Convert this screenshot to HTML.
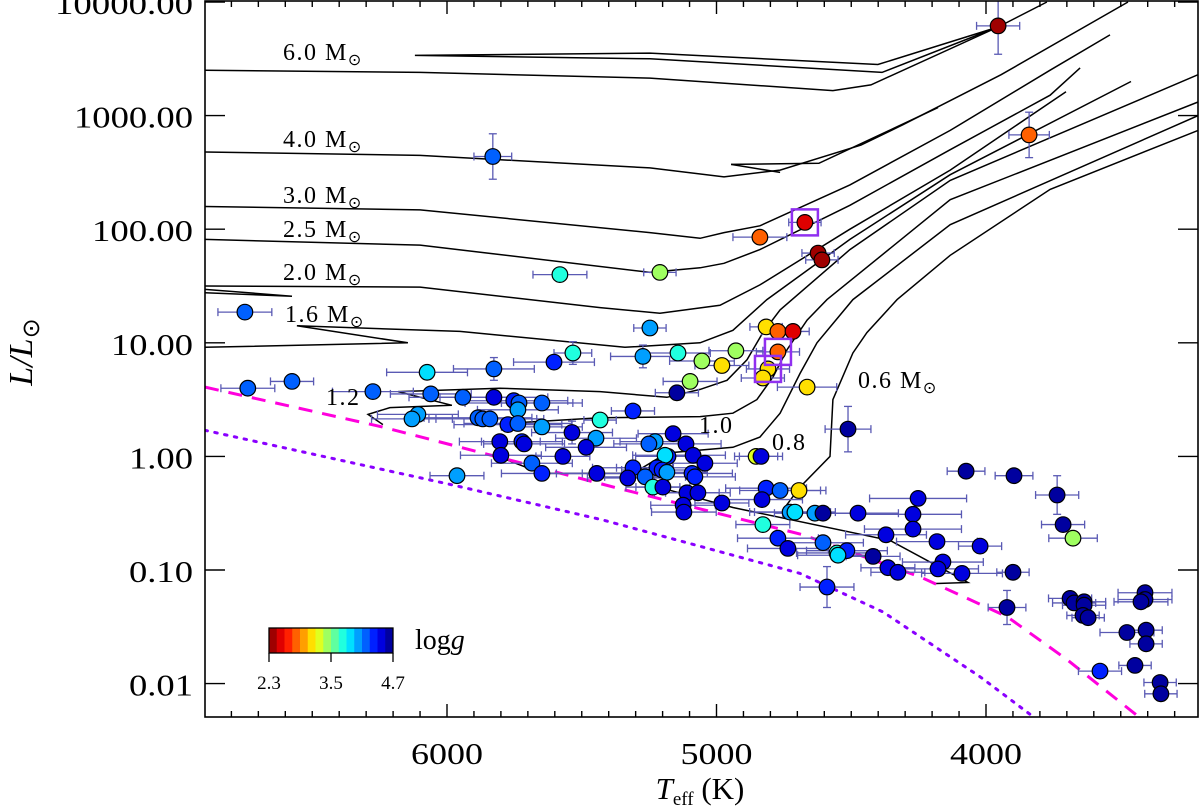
<!DOCTYPE html>
<html><head><meta charset="utf-8"><title>HR diagram</title>
<style>html,body{margin:0;padding:0;background:#fff;}svg{display:block;}</style></head>
<body>
<svg id="chart" width="1200" height="807" viewBox="0 0 1200 807" xmlns="http://www.w3.org/2000/svg" font-family="'Liberation Serif', serif">
<rect x="0" y="0" width="1200" height="807" fill="#fff"/>
<g id="tracks"></g>
<g id="limits"></g>
<g id="errs"></g>
<g id="pts"></g>
<g id="boxes"></g>
<g id="axes"></g>
<g font-size="24" fill="#000" letter-spacing="1.5">
  <text x="283" y="60">6.0 M<tspan font-size="16" dy="5">⊙</tspan></text>
  <text x="283" y="147">4.0 M<tspan font-size="16" dy="5">⊙</tspan></text>
  <text x="283" y="203">3.0 M<tspan font-size="16" dy="5">⊙</tspan></text>
  <text x="283" y="237">2.5 M<tspan font-size="16" dy="5">⊙</tspan></text>
  <text x="283" y="280">2.0 M<tspan font-size="16" dy="5">⊙</tspan></text>
  <text x="285" y="322">1.6 M<tspan font-size="16" dy="5">⊙</tspan></text>
  <text x="326" y="405">1.2</text>
  <text x="699" y="433">1.0</text>
  <text x="772" y="450">0.8</text>
  <text x="858" y="388">0.6 M<tspan font-size="16" dy="5">⊙</tspan></text>
</g>
<g id="cbar"></g>
<text transform="translate(32,352) rotate(-90)" text-anchor="middle" font-size="34" font-style="italic">L/L<tspan font-style="normal" font-size="24" dy="7">⊙</tspan></text>
<text x="700" y="799" text-anchor="middle" font-size="31"><tspan font-style="italic">T</tspan><tspan font-size="19" dy="6">eff</tspan><tspan dy="-6"> (K)</tspan></text>
</svg>
<script>
// ---- data ----
const teff = [3955,3840,5830,4672,4839,4623,4609,5581,5210,6750,4816,4772,4716,5247,5273,5143,5054,4980,4928,5098,5147,4772,4809,4828,4664,4512,5310,5432,5161,5228,5251,5113,4853,4835,5180,5191,5087,5043,5310,5329,5221,5202,5184,5265,5236,5199,5091,5080,5110,5069,5124,5121,4980,4816,4764,4694,4831,4727,4709,4635,4605,4475,4828,4772,4735,4605,4553,4516,4549,4419,4364,4327,4371,4590,4074,3896,3736,3714,3677,4252,4271,4271,4182,4022,4160,4178,4089,3900,3922,3688,3673,3636,3636,3640,3621,3410,3410,3425,3477,3406,3406,3577,3447,3354,3351,6739,6575,6275,6074,5826,5603,5533,6060,5941,5826,5752,5733,5737,5648,6108,6130,5885,5867,5841,5774,5737,5648,5536,5447,5804,5722,5714,5484,5800,5570,5685,5648,5444,5963];
const logL = [3.79,2.83,2.64,2.06,1.93,1.79,1.73,1.60,1.62,1.27,1.14,1.10,1.10,1.13,0.88,0.91,0.84,0.80,0.93,0.66,0.56,0.92,0.77,0.69,0.61,0.24,0.40,0.32,0.20,0.13,0.11,0.11,0.00,0.00,0.00,0.01,0.01,-0.06,-0.10,-0.19,-0.10,-0.12,-0.14,-0.18,-0.27,-0.27,-0.15,-0.18,-0.32,-0.32,-0.43,-0.49,-0.41,-0.28,-0.30,-0.30,-0.38,-0.49,-0.49,-0.50,-0.50,-0.50,-0.60,-0.72,-0.81,-0.76,-0.85,-0.83,-0.87,-0.88,-0.98,-1.02,-0.69,-1.15,-0.13,-0.17,-0.34,-0.60,-0.72,-0.37,-0.51,-0.64,-0.75,-0.79,-0.93,-0.99,-1.03,-1.02,-1.33,-1.25,-1.29,-1.28,-1.31,-1.40,-1.42,-1.20,-1.26,-1.28,-1.55,-1.53,-1.65,-1.89,-1.84,-1.99,-2.09,0.60,0.66,0.57,0.74,0.77,0.83,0.91,0.55,0.52,0.52,0.49,0.47,0.41,0.47,0.37,0.33,0.34,0.33,0.33,0.28,0.29,0.26,0.21,0.16,0.13,0.13,0.11,0.08,0.01,0.00,-0.06,-0.15,-0.15,-0.17];
const logg = [2.35,2.85,4.2,2.5,2.85,2.4,2.4,3.8,3.5,4.2,3.1,2.85,2.55,4.0,4.0,3.8,3.5,3.2,3.5,3.5,4.6,2.85,3.2,3.2,3.2,4.65,4.3,3.8,4.4,4.05,4.2,4.4,3.3,4.5,4.3,3.9,4.4,4.4,4.3,4.4,4.3,4.3,4.05,4.2,3.7,4.4,4.3,4.3,4.4,4.5,4.4,4.5,4.5,4.3,4.15,3.2,4.4,4.05,3.9,4.05,4.6,4.4,3.8,4.3,4.5,4.15,3.8,4.3,3.9,4.6,4.5,4.5,4.5,4.3,4.7,4.7,4.7,4.7,3.5,4.4,4.5,4.5,4.5,4.5,4.5,4.5,4.5,4.7,4.6,4.6,4.6,4.6,4.6,4.6,4.6,4.6,4.6,4.6,4.7,4.6,4.6,4.3,4.6,4.6,4.6,4.2,4.15,4.15,3.9,4.2,4.3,3.8,4.15,4.2,4.4,4.3,4.2,4.05,4.2,4.05,4.05,4.2,4.2,4.15,4.3,4.2,4.05,4.4,4.0,4.4,4.3,4.5,4.4,4.4,4.4,4.15,4.3,4.5,4.05];
const errT = [80,75,70,60,100,60,60,100,60,100,60,60,60,60,120,120,120,100,100,100,80,80,80,80,110,85,80,60,130,130,130,130,80,80,120,120,120,120,150,150,150,150,150,150,100,100,150,150,120,120,120,120,100,150,150,100,150,150,150,150,150,150,100,150,150,150,150,150,150,100,100,100,150,100,70,70,80,80,90,180,180,180,150,80,150,150,150,60,70,80,80,80,80,60,60,100,100,100,100,60,60,80,60,60,60,100,80,150,150,150,150,70,150,200,200,200,200,150,150,150,150,200,200,200,200,200,150,150,150,150,150,150,150,150,100,150,150,150,100];
const errL = [0.25,0.2,0.2,0.04,0.04,0.04,0.04,0.04,0.04,0.04,0.04,0.04,0.04,0.04,0.1,0.04,0.04,0.04,0.04,0.04,0.04,0.04,0.04,0.04,0.04,0.2,0.04,0.04,0.04,0.04,0.04,0.04,0.04,0.04,0.04,0.04,0.04,0.04,0.04,0.04,0.04,0.04,0.04,0.04,0.04,0.04,0.04,0.04,0.04,0.04,0.04,0.04,0.04,0.04,0.04,0.04,0.04,0.04,0.04,0.04,0.04,0.04,0.04,0.04,0.04,0.04,0.04,0.04,0.04,0.04,0.04,0.04,0.04,0.18,0.04,0.05,0.17,0.04,0.04,0.04,0.04,0.04,0.04,0.04,0.04,0.04,0.04,0.04,0.15,0.04,0.04,0.04,0.04,0.04,0.04,0.04,0.04,0.04,0.04,0.04,0.04,0.04,0.04,0.04,0.04,0.04,0.04,0.04,0.04,0.1,0.04,0.1,0.04,0.04,0.04,0.04,0.04,0.04,0.04,0.04,0.04,0.04,0.04,0.04,0.04,0.04,0.04,0.1,0.04,0.04,0.04,0.04,0.04,0.04,0.04,0.04,0.04,0.04,0.04];
const boxedIdx = [3, 21, 22];
const trackNames = ['track-6-0','track-6-0-loop','track-4-0','track-4-0-loop','track-4-0-loop-b','track-3-0','track-2-5','track-2-0','track-2-0-hook','track-1-6','track-1-2','track-1-0','track-0-8','track-0-6','track-0-6-lower'];
const trackT = [
 [6898,6100,5247,4568,4427,3955,3774],
 [3955,4386,5247,6119,5247,4401,3955],
 [6898,6100,5247,4972,4764,4464,4308,3944,3473],
 [4946,4620,4178],
 [4946,4764],
 [6898,6100,5247,5061,4972,4839,4505,4133,3762,3540],
 [6898,6100,5247,5061,4972,4839,4505,4133,3762,3651],
 [6898,6100,5432,5210,4987,4839,4505,4133,3703],
 [6898,6575,6898],
 [6898,6145,6557,5952,5340,5061,4939,4813,4505,4133,3462],
 [6238,6293,6212,5982,6182,5804,5432,5184,5061,4961,4887,4828,4764,4505,4133,3213],
 [5711,5432,5061,4939,4850,4790,4738,4664,4590,4133,3213],
 [5811,5648,5310,5184,4939,4839,4764,4690,4627,4494,4133,3213],
 [4753,4690,4579,4568,4494,4442,4330,4133,3762,3213],
 [5247,4939,4356,4067,4197]
];
const trackL = [
 [3.40,3.38,3.33,3.22,3.27,3.78,4.00],
 [3.78,3.38,3.50,3.53,3.55,3.45,3.78],
 [2.68,2.65,2.54,2.46,2.52,2.74,2.92,3.36,4.00],
 [2.57,2.58,3.07],
 [2.57,2.50],
 [2.20,2.17,1.97,1.92,1.97,2.03,2.39,2.87,3.40,3.71],
 [1.91,1.86,1.62,1.66,1.70,1.82,2.21,2.70,3.18,3.42],
 [1.50,1.49,1.31,1.26,1.33,1.51,2.00,2.52,3.21],
 [1.47,1.41,1.44],
 [0.96,1.00,1.15,1.10,0.96,1.00,1.11,1.38,1.91,2.48,3.30],
 [0.28,0.37,0.43,0.45,0.57,0.60,0.57,0.52,0.59,0.67,0.85,1.09,1.29,1.82,2.43,3.36],
 [0.30,0.34,0.35,0.38,0.50,0.70,0.94,1.20,1.38,2.26,3.12],
 [0.00,-0.15,-0.15,0.03,0.08,0.17,0.38,0.73,1.00,1.38,2.04,3.00],
 [-0.47,-0.27,0.00,0.50,0.91,1.09,1.38,1.77,2.35,2.87],
 [-0.25,-0.45,-0.74,-1.11,-1.12]
];
const dashT = [6898,6241,5366,4679,4245,3922,3699,3440,3380];
const dashL = [0.61,0.26,-0.28,-0.69,-1.06,-1.41,-1.79,-2.28,-2.40];
const dotT = [6898,5982,5421,4690,4382,4022,3826];
const dotL = [0.23,-0.25,-0.56,-1.03,-1.37,-1.94,-2.29];
const yTickVals = [4,3,2,1,0,-1,-2];
const yTickLabels = ['10000.00','1000.00','100.00','10.00','1.00','0.10','0.01'];
const xTickVals = [6000,5000,4000];
const xTickLabels = ['6000','5000','4000'];
const cbarTicks = [2.3,3.5,4.7];
const cbarLabels = ['2.3','3.5','4.7'];

// ---- scales ----
const X0 = 205, X1 = 1198, Y0 = 1, Y1 = 717;
function sx(t){ return 447 + (6000 - t) * 0.2695; }
function sy(l){ return 2 + (4 - l) * 113.6; }
const NS = 'http://www.w3.org/2000/svg';
function mk(tag, parent){ const e = document.createElementNS(NS, tag); parent.appendChild(e); return e; }
function clamp(v){ return Math.max(0, Math.min(1, v)); }
function jet(g){
  let v = clamp((4.7 - g) / 2.4);
  v = (Math.min(15, Math.floor(v * 16)) + 0.5) / 16;
  const r = clamp(Math.min(4*v - 1.5, -4*v + 4.5)), gg = clamp(Math.min(4*v - 0.5, -4*v + 3.5)), b = clamp(Math.min(4*v + 0.5, -4*v + 2.5));
  return 'rgb(' + Math.round(r*255) + ',' + Math.round(gg*255) + ',' + Math.round(b*255) + ')';
}
const svg = document.getElementById('chart');
const defs = mk('defs', svg);
const cp = mk('clipPath', defs); cp.setAttribute('id', 'plotclip');
const cr = mk('rect', cp); cr.setAttribute('x', X0); cr.setAttribute('y', Y0); cr.setAttribute('width', X1 - X0); cr.setAttribute('height', Y1 - Y0);
['tracks','limits','errs','pts'].forEach(id => document.getElementById(id).setAttribute('clip-path', 'url(#plotclip)'));

// tracks
const gT = document.getElementById('tracks');
trackT.forEach((arr, k) => {
  const p = mk('polyline', gT);
  p.setAttribute('points', arr.map((t, i) => sx(t).toFixed(1) + ',' + sy(trackL[k][i]).toFixed(1)).join(' '));
  p.setAttribute('fill', 'none'); p.setAttribute('stroke', '#000'); p.setAttribute('stroke-width', '1.5');
  
  
});
const gLim = document.getElementById('limits');
const dl = mk('polyline', gLim);
dl.setAttribute('points', dashT.map((t, i) => sx(t).toFixed(1) + ',' + sy(dashL[i]).toFixed(1)).join(' '));
dl.setAttribute('fill', 'none'); dl.setAttribute('stroke', '#ff00dd'); dl.setAttribute('stroke-width', '3'); dl.setAttribute('stroke-dasharray', '14 10');


const dt = mk('polyline', gLim);
dt.setAttribute('points', dotT.map((t, i) => sx(t).toFixed(1) + ',' + sy(dotL[i]).toFixed(1)).join(' '));
dt.setAttribute('fill', 'none'); dt.setAttribute('stroke', '#8a00ff'); dt.setAttribute('stroke-width', '3'); dt.setAttribute('stroke-dasharray', '2.5 7.5'); dt.setAttribute('stroke-linecap', 'round');



// error bars and points
const gE = document.getElementById('errs'), gP = document.getElementById('pts');
const ec = '#5a5ab4';
function ln(par, x1, y1, x2, y2){ const l = mk('line', par); l.setAttribute('x1', x1); l.setAttribute('y1', y1); l.setAttribute('x2', x2); l.setAttribute('y2', y2); l.setAttribute('stroke', ec); l.setAttribute('stroke-width', '1.3'); return l; }
teff.forEach((t, i) => {
  const cx = sx(t), cy = sy(logL[i]);
  const g = mk('g', gE);
  
  
  const xa = sx(t + errT[i]), xb = sx(t - errT[i]);
  ln(g, xa, cy, xb, cy); ln(g, xa, cy - 4, xa, cy + 4); ln(g, xb, cy - 4, xb, cy + 4);
  const ya = sy(logL[i] + errL[i]), yb = sy(logL[i] - errL[i]);
  ln(g, cx, ya, cx, yb); ln(g, cx - 4, ya, cx + 4, ya); ln(g, cx - 4, yb, cx + 4, yb);
  const c = mk('circle', gP);
  c.setAttribute('cx', cx.toFixed(1)); c.setAttribute('cy', cy.toFixed(1)); c.setAttribute('r', '7.8');
  c.setAttribute('fill', jet(logg[i])); c.setAttribute('stroke', '#000'); c.setAttribute('stroke-width', '1.2');
  
  
});
const gB = document.getElementById('boxes');
boxedIdx.forEach(i => {
  const r = mk('rect', gB);
  r.setAttribute('x', sx(teff[i]) - 13); r.setAttribute('y', sy(logL[i]) - 13);
  r.setAttribute('width', 26); r.setAttribute('height', 26);
  r.setAttribute('fill', 'none'); r.setAttribute('stroke', '#9030f0'); r.setAttribute('stroke-width', '2.5');
  
  
});

// axes
const gA = document.getElementById('axes');
const fr = mk('rect', gA);
fr.setAttribute('x', X0); fr.setAttribute('y', Y0); fr.setAttribute('width', X1 - X0); fr.setAttribute('height', Y1 - Y0);
fr.setAttribute('fill', 'none'); fr.setAttribute('stroke', '#000'); fr.setAttribute('stroke-width', '1.6');


function bl(x1, y1, x2, y2){ const l = mk('line', gA); l.setAttribute('x1', x1); l.setAttribute('y1', y1); l.setAttribute('x2', x2); l.setAttribute('y2', y2); l.setAttribute('stroke', '#000'); l.setAttribute('stroke-width', '1.4'); return l; }
for (let t = 3300; t <= 6800; t += 100) {
  const x = sx(t); if (x < X0 || x > X1) continue;
  const len = (t % 1000 === 0) ? 13 : 6;
  bl(x, Y1, x, Y1 - len); bl(x, Y0, x, Y0 + len);
}
yTickVals.forEach((v, i) => {
  const y = sy(v);
  bl(X0, y, X0 + 20, y); bl(X1, y, X1 - 20, y);
  const tx = mk('text', gA);
  const lab = yTickLabels[i];
  const nd = lab.replace('.', '').length;
  tx.setAttribute('x', 193); tx.setAttribute('y', y + 12); tx.setAttribute('text-anchor', 'end'); tx.setAttribute('font-size', '31');
  tx.setAttribute('textLength', (18.5 * nd + 8).toFixed(0)); tx.setAttribute('lengthAdjust', 'spacingAndGlyphs');
  tx.textContent = lab;
  
  
});
xTickVals.forEach((v, i) => {
  const tx = mk('text', gA);
  tx.setAttribute('x', sx(v) - 36); tx.setAttribute('y', 764); tx.setAttribute('font-size', '31');
  tx.setAttribute('textLength', '72'); tx.setAttribute('lengthAdjust', 'spacingAndGlyphs');
  tx.textContent = xTickLabels[i];
  
  
});

// colorbar
const gC = document.getElementById('cbar');
const cbX0 = 269, cbX1 = 393, cbY0 = 628, cbY1 = 653;
function cx_(g){ return cbX0 + (g - 2.3) / 2.4 * (cbX1 - cbX0); }
for (let k = 0; k < 16; k++) {
  const g0 = 2.3 + k * 0.15;
  const r = mk('rect', gC);
  r.setAttribute('x', cx_(g0)); r.setAttribute('y', cbY0); r.setAttribute('width', (cbX1 - cbX0) / 16 + 0.5); r.setAttribute('height', cbY1 - cbY0);
  r.setAttribute('fill', jet(g0 + 0.075));
  
  
}
const cf = mk('rect', gC);
cf.setAttribute('x', cbX0); cf.setAttribute('y', cbY0); cf.setAttribute('width', cbX1 - cbX0); cf.setAttribute('height', cbY1 - cbY0);
cf.setAttribute('fill', 'none'); cf.setAttribute('stroke', '#000'); cf.setAttribute('stroke-width', '1.3');


cbarTicks.forEach((g, i) => {
  const x = cx_(g);
  const l = mk('line', gC); l.setAttribute('x1', x); l.setAttribute('x2', x); l.setAttribute('y1', cbY1); l.setAttribute('y2', 662); l.setAttribute('stroke', '#000'); l.setAttribute('stroke-width', '1.3');
  const tx = mk('text', gC);
  tx.setAttribute('x', x); tx.setAttribute('y', 689); tx.setAttribute('text-anchor', 'middle'); tx.setAttribute('font-size', '19');
  tx.textContent = cbarLabels[i];
  
  
});
const lg = mk('text', gC);
lg.setAttribute('x', 415); lg.setAttribute('y', 649); lg.setAttribute('font-size', '28');
lg.innerHTML = 'log<tspan font-style="italic">g</tspan>';


</script>
</body></html>
